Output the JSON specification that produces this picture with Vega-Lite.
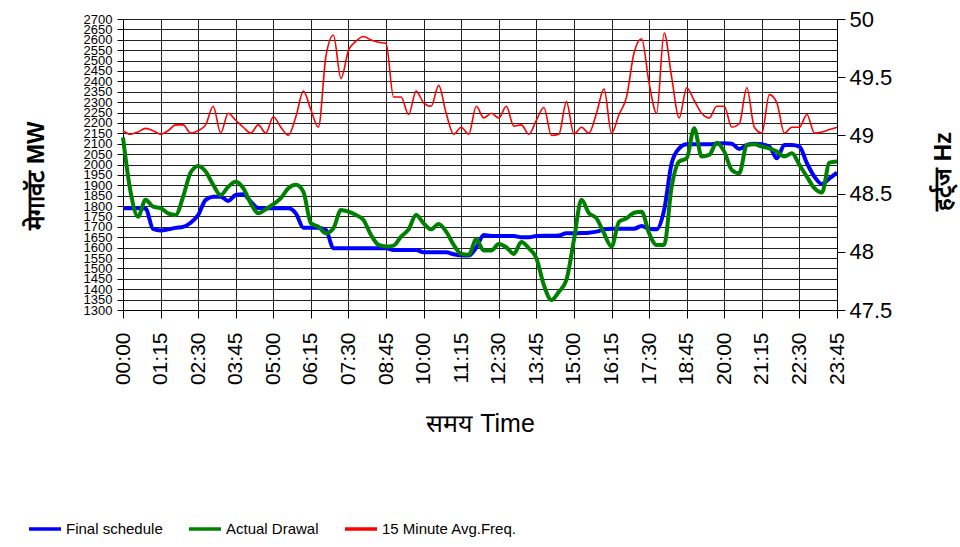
{
  "$schema": "https://vega.github.io/schema/vega-lite/v6.json",
  "width": 714,
  "height": 291,
  "autosize": {"type": "none"},
  "padding": {"left": 123, "top": 19, "right": 123, "bottom": 237},
  "background": "white",
  "config": {"view": {"stroke": null}, "font": "Liberation Sans"},
  "data": {"values": [
    {"t":"00:00","schedule":1790,"drawal":2130,"freq":49.04},
    {"t":"00:15","schedule":1790,"drawal":1870,"freq":49.01},
    {"t":"00:30","schedule":1790,"drawal":1749,"freq":49.03},
    {"t":"00:45","schedule":1788,"drawal":1830,"freq":49.06},
    {"t":"01:00","schedule":1690,"drawal":1797,"freq":49.04},
    {"t":"01:15","schedule":1683,"drawal":1790,"freq":49.01},
    {"t":"01:30","schedule":1688,"drawal":1765,"freq":49.04},
    {"t":"01:45","schedule":1695,"drawal":1757,"freq":49.09},
    {"t":"02:00","schedule":1700,"drawal":1845,"freq":49.09},
    {"t":"02:15","schedule":1720,"drawal":1961,"freq":49.02},
    {"t":"02:30","schedule":1757,"drawal":1993,"freq":49.04},
    {"t":"02:45","schedule":1830,"drawal":1966,"freq":49.09},
    {"t":"03:00","schedule":1845,"drawal":1902,"freq":49.25},
    {"t":"03:15","schedule":1845,"drawal":1853,"freq":49.02},
    {"t":"03:30","schedule":1825,"drawal":1893,"freq":49.19},
    {"t":"03:45","schedule":1853,"drawal":1917,"freq":49.13},
    {"t":"04:00","schedule":1857,"drawal":1886,"freq":49.07},
    {"t":"04:15","schedule":1821,"drawal":1813,"freq":49.02},
    {"t":"04:30","schedule":1790,"drawal":1765,"freq":49.09},
    {"t":"04:45","schedule":1790,"drawal":1785,"freq":49.02},
    {"t":"05:00","schedule":1790,"drawal":1809,"freq":49.16},
    {"t":"05:15","schedule":1790,"drawal":1838,"freq":49.07},
    {"t":"05:30","schedule":1790,"drawal":1886,"freq":49.0},
    {"t":"05:45","schedule":1765,"drawal":1902,"freq":49.16},
    {"t":"06:00","schedule":1696,"drawal":1869,"freq":49.38},
    {"t":"06:15","schedule":1696,"drawal":1717,"freq":49.22},
    {"t":"06:30","schedule":1696,"drawal":1701,"freq":49.07},
    {"t":"06:45","schedule":1685,"drawal":1669,"freq":49.68},
    {"t":"07:00","schedule":1597,"drawal":1693,"freq":49.86},
    {"t":"07:15","schedule":1597,"drawal":1781,"freq":49.49},
    {"t":"07:30","schedule":1597,"drawal":1773,"freq":49.73},
    {"t":"07:45","schedule":1597,"drawal":1757,"freq":49.81},
    {"t":"08:00","schedule":1597,"drawal":1733,"freq":49.85},
    {"t":"08:15","schedule":1597,"drawal":1661,"freq":49.82},
    {"t":"08:30","schedule":1597,"drawal":1613,"freq":49.8},
    {"t":"08:45","schedule":1597,"drawal":1605,"freq":49.79},
    {"t":"09:00","schedule":1589,"drawal":1610,"freq":49.33},
    {"t":"09:15","schedule":1589,"drawal":1653,"freq":49.33},
    {"t":"09:30","schedule":1589,"drawal":1688,"freq":49.18},
    {"t":"09:45","schedule":1589,"drawal":1757,"freq":49.38},
    {"t":"10:00","schedule":1578,"drawal":1717,"freq":49.28},
    {"t":"10:15","schedule":1578,"drawal":1688,"freq":49.25},
    {"t":"10:30","schedule":1578,"drawal":1714,"freq":49.43},
    {"t":"10:45","schedule":1578,"drawal":1677,"freq":49.19},
    {"t":"11:00","schedule":1568,"drawal":1613,"freq":49.01},
    {"t":"11:15","schedule":1563,"drawal":1570,"freq":49.07},
    {"t":"11:30","schedule":1562,"drawal":1566,"freq":49.01},
    {"t":"11:45","schedule":1600,"drawal":1640,"freq":49.25},
    {"t":"12:00","schedule":1661,"drawal":1586,"freq":49.15},
    {"t":"12:15","schedule":1656,"drawal":1586,"freq":49.19},
    {"t":"12:30","schedule":1656,"drawal":1618,"freq":49.15},
    {"t":"12:45","schedule":1656,"drawal":1602,"freq":49.25},
    {"t":"13:00","schedule":1656,"drawal":1570,"freq":49.08},
    {"t":"13:15","schedule":1650,"drawal":1627,"freq":49.09},
    {"t":"13:30","schedule":1650,"drawal":1597,"freq":49.01},
    {"t":"13:45","schedule":1656,"drawal":1549,"freq":49.13},
    {"t":"14:00","schedule":1657,"drawal":1420,"freq":49.24},
    {"t":"14:15","schedule":1657,"drawal":1348,"freq":49.0},
    {"t":"14:30","schedule":1658,"drawal":1388,"freq":49.01},
    {"t":"14:45","schedule":1669,"drawal":1445,"freq":49.29},
    {"t":"15:00","schedule":1669,"drawal":1637,"freq":49.01},
    {"t":"15:15","schedule":1670,"drawal":1830,"freq":49.07},
    {"t":"15:30","schedule":1672,"drawal":1765,"freq":49.02},
    {"t":"15:45","schedule":1677,"drawal":1741,"freq":49.19},
    {"t":"16:00","schedule":1688,"drawal":1669,"freq":49.4},
    {"t":"16:15","schedule":1691,"drawal":1605,"freq":49.02},
    {"t":"16:30","schedule":1691,"drawal":1725,"freq":49.18},
    {"t":"16:45","schedule":1691,"drawal":1741,"freq":49.33},
    {"t":"17:00","schedule":1691,"drawal":1768,"freq":49.71},
    {"t":"17:15","schedule":1704,"drawal":1773,"freq":49.83},
    {"t":"17:30","schedule":1691,"drawal":1669,"freq":49.45},
    {"t":"17:45","schedule":1688,"drawal":1613,"freq":49.19},
    {"t":"18:00","schedule":1781,"drawal":1613,"freq":49.88},
    {"t":"18:15","schedule":2006,"drawal":1893,"freq":49.5},
    {"t":"18:30","schedule":2078,"drawal":2014,"freq":49.15},
    {"t":"18:45","schedule":2097,"drawal":2030,"freq":49.41},
    {"t":"19:00","schedule":2097,"drawal":2174,"freq":49.3},
    {"t":"19:15","schedule":2097,"drawal":2038,"freq":49.19},
    {"t":"19:30","schedule":2097,"drawal":2046,"freq":49.15},
    {"t":"19:45","schedule":2100,"drawal":2105,"freq":49.25},
    {"t":"20:00","schedule":2102,"drawal":2062,"freq":49.25},
    {"t":"20:15","schedule":2100,"drawal":1974,"freq":49.07},
    {"t":"20:30","schedule":2075,"drawal":1958,"freq":49.1},
    {"t":"20:45","schedule":2094,"drawal":2094,"freq":49.41},
    {"t":"21:00","schedule":2100,"drawal":2097,"freq":49.07},
    {"t":"21:15","schedule":2097,"drawal":2086,"freq":49.02},
    {"t":"21:30","schedule":2086,"drawal":2078,"freq":49.35},
    {"t":"21:45","schedule":2030,"drawal":2062,"freq":49.28},
    {"t":"22:00","schedule":2094,"drawal":2038,"freq":49.02},
    {"t":"22:15","schedule":2094,"drawal":2054,"freq":49.07},
    {"t":"22:30","schedule":2086,"drawal":1998,"freq":49.07},
    {"t":"22:45","schedule":2006,"drawal":1941,"freq":49.18},
    {"t":"23:00","schedule":1941,"drawal":1886,"freq":49.02},
    {"t":"23:15","schedule":1906,"drawal":1865,"freq":49.03},
    {"t":"23:30","schedule":1933,"drawal":2009,"freq":49.05},
    {"t":"23:45","schedule":1961,"drawal":2014,"freq":49.07}
  ]},
  "encoding": {
    "x": {
      "field": "t", "type": "ordinal", "sort": null,
      "scale": {"type": "point", "padding": 0},
      "axis": {
        "values": ["00:00","01:15","02:30","03:45","05:00","06:15","07:30","08:45","10:00","11:15","12:30","13:45","15:00","16:15","17:30","18:45","20:00","21:15","22:30","23:45"],
        "labelAngle": -90, "labelFontSize": 21, "labelColor": "black", "labelPadding": 14,
        "tickSize": 8, "tickColor": "black", "domainColor": "black",
        "grid": true, "gridColor": "#222", "gridWidth": 1,
        "title": "समय Time", "titleFontSize": 25, "titleFontWeight": "normal", "titleColor": "black",
        "titleY": 113, "titleBaseline": "middle"
      }
    },
    "color": {
      "field": "series", "type": "nominal",
      "scale": {"domain": ["schedule", "drawal", "freq"], "range": ["#0000FF", "#008000", "#FF0000"]},
      "legend": {
        "orient": "none", "legendX": -96, "legendY": 492, "direction": "horizontal", "title": null,
        "symbolType": "stroke", "symbolSize": 1024, "symbolStrokeWidth": 3.5,
        "labelFontSize": 15, "labelColor": "black", "labelOffset": 3,
        "columnPadding": 19,
        "labelExpr": "datum.label == 'schedule' ? 'Final schedule' : datum.label == 'drawal' ? 'Actual Drawal' : '15 Minute Avg.Freq.'"
      }
    }
  },
  "layer": [
    {
      "transform": [{"fold": ["schedule", "drawal"], "as": ["series", "mw"]}],
      "mark": {"type": "line", "interpolate": "monotone", "strokeWidth": 4},
      "encoding": {
        "y": {
          "field": "mw", "type": "quantitative",
          "scale": {"domain": [1300, 2700], "nice": false, "zero": false},
          "axis": {
            "values": [1300,1350,1400,1450,1500,1550,1600,1650,1700,1750,1800,1850,1900,1950,2000,2050,2100,2150,2200,2250,2300,2350,2400,2450,2500,2550,2600,2650,2700],
            "format": "d", "labelOverlap": false, "labelFontSize": 13, "labelColor": "black", "labelPadding": 5,
            "tickSize": 6, "tickColor": "black", "domainColor": "black",
            "grid": true, "gridColor": "#222", "gridWidth": 1,
            "title": "मेगावॅट   MW", "titleFontSize": 24, "titleFontWeight": "bold", "titleColor": "black",
            "titleX": -87, "titleY": 156, "titleBaseline": "middle", "titleAngle": -90
          }
        }
      }
    },
    {
      "transform": [{"fold": ["freq"], "as": ["series", "hz"]}],
      "mark": {"type": "line", "interpolate": "monotone", "strokeWidth": 1.6},
      "encoding": {
        "y": {
          "field": "hz", "type": "quantitative",
          "scale": {"domain": [47.5, 50], "nice": false, "zero": false},
          "axis": {
            "orient": "right",
            "values": [47.5, 48, 48.5, 49, 49.5, 50],
            "format": "~g", "labelFontSize": 22, "labelColor": "black", "labelPadding": 4,
            "tickSize": 8, "tickColor": "black", "domainColor": "black", "grid": false,
            "title": "हर्ट्ज  Hz", "titleFontSize": 24, "titleFontWeight": "bold", "titleColor": "black",
            "titleX": 106, "titleY": 152, "titleBaseline": "middle", "titleAngle": 270
          }
        }
      }
    }
  ],
  "resolve": {"scale": {"y": "independent"}}
}
